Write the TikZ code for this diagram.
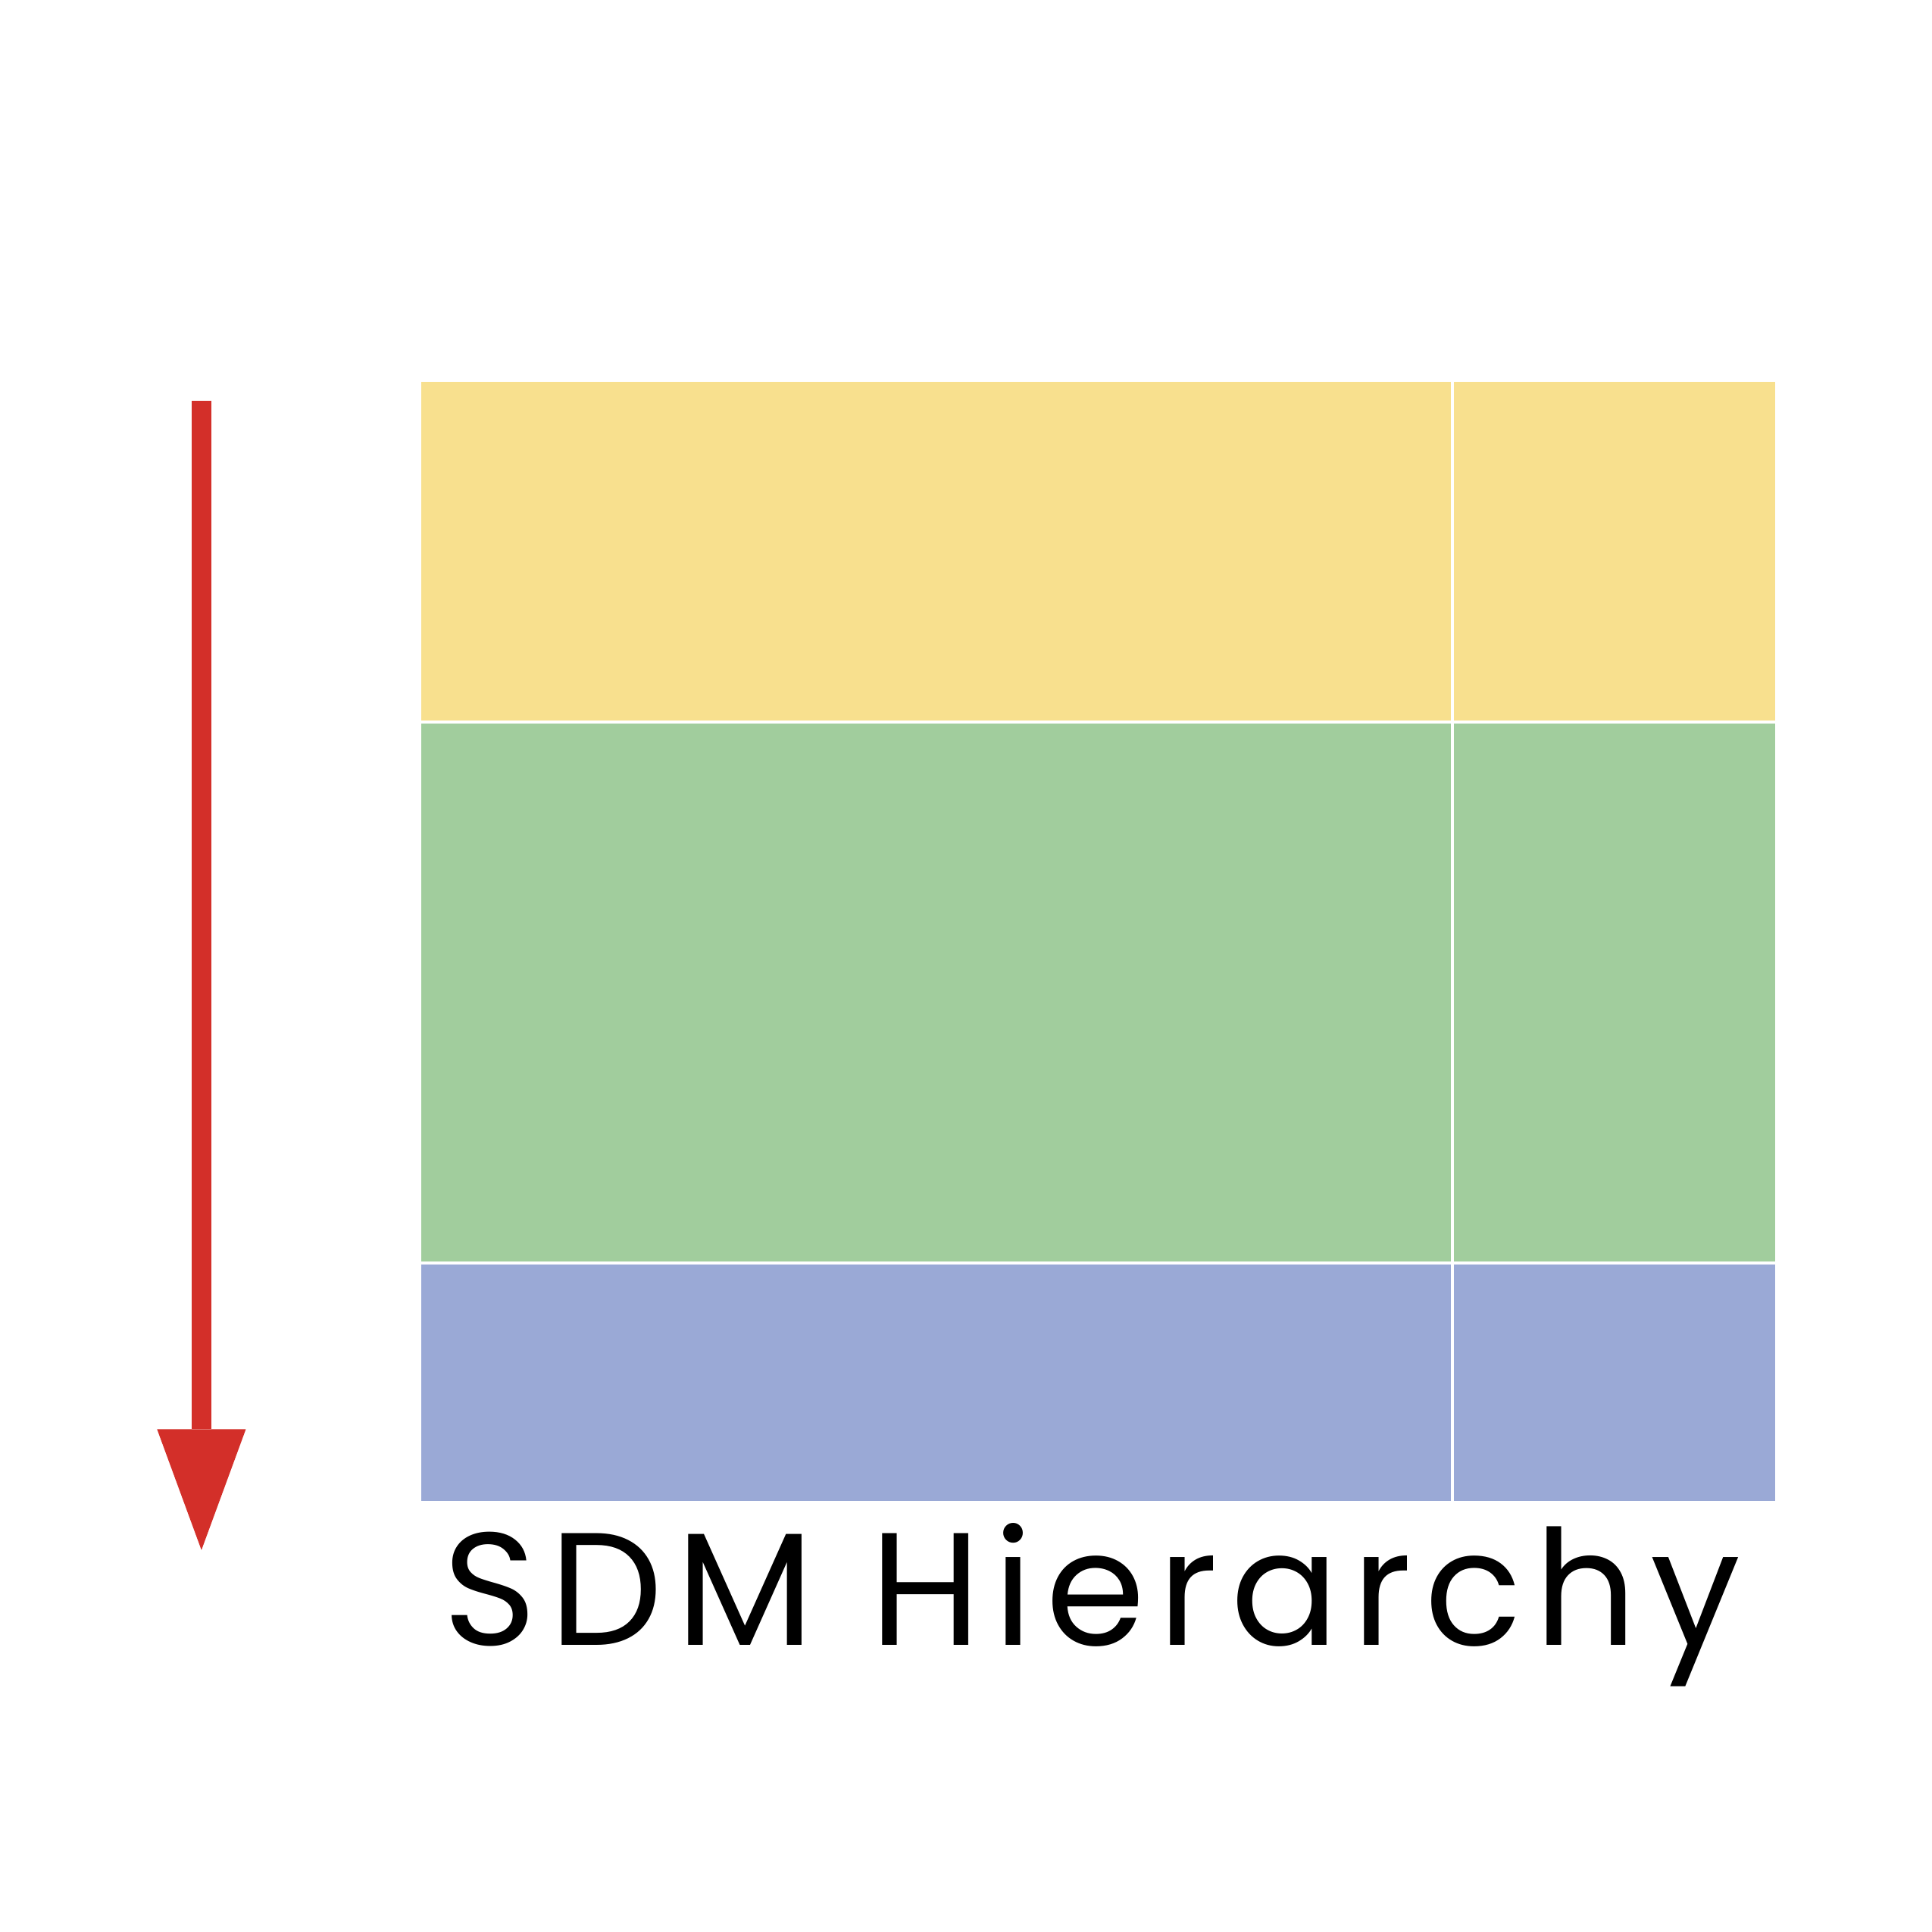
\documentclass[tikz,border=0pt]{standalone}
\usepackage{fontspec}
\setmainfont{Poppins}[LetterSpace=8]
\usetikzlibrary{arrows.meta}
\definecolor{tierone}{RGB}{248,224,142}
\definecolor{tiertwo}{RGB}{161,205,157}
\definecolor{tierthree}{RGB}{154,169,214}
\definecolor{arrowred}{RGB}{211,47,41}
\tikzset{
  split/.style={white, line width=0.025cm},
}
\begin{document}
\begin{tikzpicture}[x=0.01cm,y=-0.01cm]
\useasboundingbox (0,0) rectangle (1568,1568);

% hierarchy bands
\fill[tierone]   (342,310)  rectangle (1441,586);
\fill[tiertwo]   (342,586)  rectangle (1441,1025);
\fill[tierthree] (342,1025) rectangle (1441,1218);
\draw[split] (342,586) -- (1441,586);
\draw[split] (342,1025) -- (1441,1025);
\draw[split] (1178.5,310) -- (1178.5,1218);

% direction arrow
\coordinate (top) at (163.5,325);
\coordinate (bottom) at (163.5,1258);
\draw[arrowred, line width=0.16cm, -{Triangle[width=0.72cm,length=0.98cm,line width=0pt]}] (top) -- (bottom);

\node[anchor=base west, inner sep=0pt, font=\fontsize{37}{44}\selectfont] (label) at (359,1335) {SDM Hierarchy};
\end{tikzpicture}
\end{document}
